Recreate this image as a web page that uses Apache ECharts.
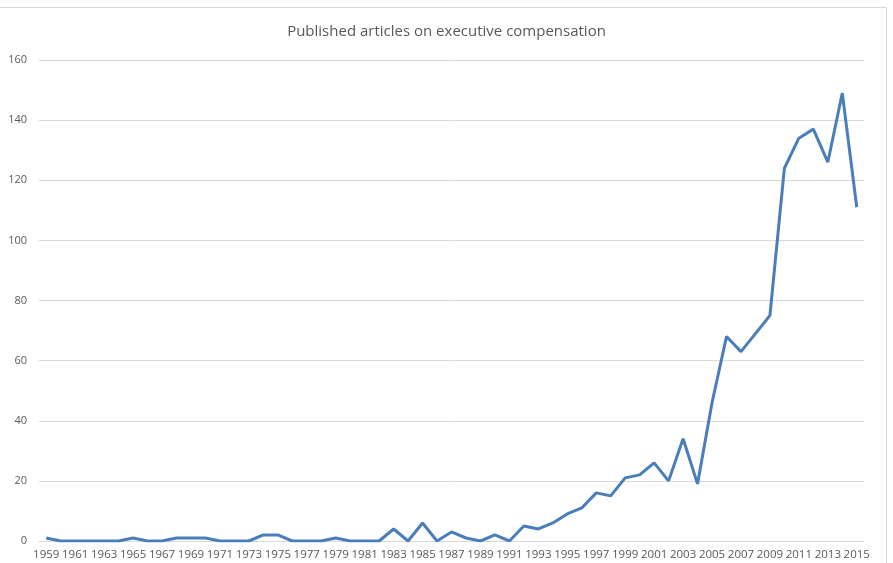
<!DOCTYPE html>
<html>
<head>
<meta charset="utf-8">
<script src="https://cdn.jsdelivr.net/npm/echarts@6/dist/echarts.min.js"></script>
<style>
  html, body { margin: 0; padding: 0; background: #fff; }
  #frame { position: absolute; left: 0; top: 7px; width: 887px; height: 556px; border-top: 1px solid #d9d9d9; border-right: 1px solid #d9d9d9; box-sizing: border-box; }
  #chart { position: absolute; left: 0; top: 0; width: 893px; height: 563px; }
</style>
</head>
<body>
<div id="frame"></div>
<div id="chart"></div>
<script>
// 数据
const years = [];
for (let y = 1959; y <= 2015; y++) years.push(String(y));

const articles = [
  1, 0, 0, 0, 0, 0, 1, 0, 0, 1,
  1, 1, 0, 0, 0, 2, 2, 0, 0, 0,
  1, 0, 0, 0, 4, 0, 6, 0, 3, 1,
  0, 2, 0, 5, 4, 6, 9, 11, 16, 15,
  21, 22, 26, 20, 34, 19, 46, 68, 63, 69,
  75, 124, 134, 137, 126, 149, 111
];

const yTicks = [0, 20, 40, 60, 80, 100, 120, 140, 160];

const myChart = echarts.init(document.getElementById('chart'));
const option = {
  animation: false,
  title: {
    text: 'Published articles on executive compensation',
    left: 'center',
    top: 19,
    textStyle: {
      fontFamily: 'Open Sans',
      fontSize: 15,
      fontWeight: 'normal',
      color: '#595959',
    },
  },
  grid: {
    left: 39,
    right: 29,
    top: 60,
    bottom: 22,
  },
  xAxis: {
    type: 'category',
    data: years,
    boundaryGap: true,
    axisLine: { lineStyle: { color: '#d9d9d9' } },
    axisTick: { show: false },
    axisLabel: {
      interval: 1,
      color: '#595959',
      fontFamily: 'Open Sans',
      fontSize: 11.5,
      margin: 8,
    },
  },
  yAxis: {
    type: 'value',
    min: yTicks[0],
    max: yTicks[yTicks.length - 1],
    interval: 20,
    axisLine: { show: false },
    axisTick: { show: false },
    splitLine: { lineStyle: { color: '#d9d9d9' } },
    axisLabel: {
      color: '#595959',
      fontFamily: 'Open Sans',
      fontSize: 11,
      margin: 12,
    },
  },
  series: [
    {
      type: 'line',
      data: articles,
      symbol: 'none',
      lineStyle: { color: '#4a7ebb', width: 3 },
    },
  ],
};

option && myChart.setOption(option);
</script>
</body>
</html>
